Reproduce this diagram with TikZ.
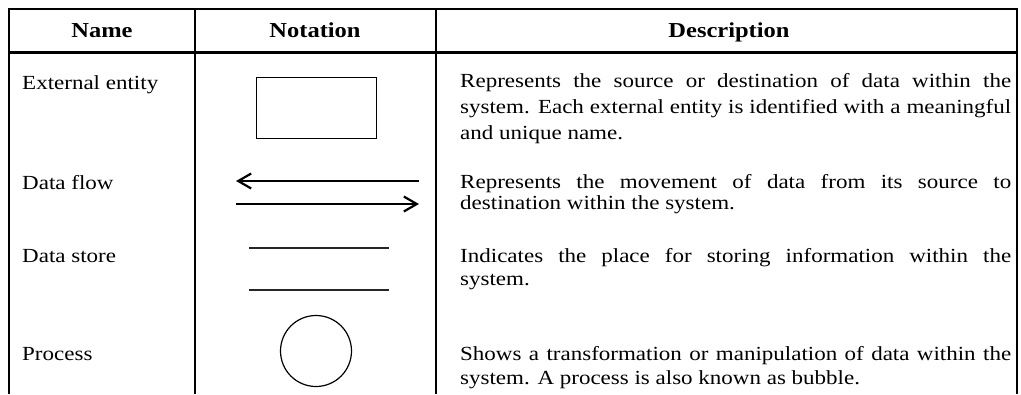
\documentclass[tikz,border=0pt]{standalone}
\usepackage{fontspec}
\setmainfont[FakeStretch=1.15]{Liberation Serif}
\usetikzlibrary{arrows.meta}
\begin{document}
\begin{tikzpicture}[x=1pt,y=-1pt,
  body/.style={anchor=base west,inner sep=0pt,font=\fontsize{20}{24}\selectfont},
  head/.style={anchor=base,inner sep=0pt,font=\fontsize{21.3}{25}\selectfont\bfseries},
  colrule/.style={line width=2pt},
  flow/.style={line width=2pt,-{Straight Barb[length=13pt,width=15pt,line width=2.2pt]}},
  storeline/.style={line width=1.6pt,draw=black!85},
]
\useasboundingbox (0,0) rectangle (1021,394);
% table frame
\draw[line width=2.5pt] (9,394) -- (9,9) -- (1017,9) -- (1017,394);
\draw[colrule] (195,9) -- (195,394);
\draw[colrule] (436,9) -- (436,394);
\draw[line width=3pt] (9,52) -- (1017,52);
% headers
\node[head] (hname) at (102,37) {Name};
\node[head] (hnot) at (315,37) {Notation};
\node[head] (hdesc) at (729,37) {Description};
% names
\node[body] (n1) at (22,89) {External entity};
\node[body] (n2) at (22,189) {Data flow};
\node[body] (n3) at (22,262) {Data store};
\node[body] (n4) at (22,360) {Process};
% notation
\node[draw,line width=1pt,minimum width=120pt,minimum height=61pt,inner sep=0pt] (ent) at (316,107.5) {};
\coordinate (f1s) at (419,181);
\coordinate (f1e) at (236,181);
\coordinate (f2s) at (236,204);
\coordinate (f2e) at (419,204);
\draw[flow] (f1s) -- (f1e);
\draw[flow] (f2s) -- (f2e);
\coordinate (s1a) at (249,248);
\coordinate (s1b) at (389,248);
\coordinate (s2a) at (249,290);
\coordinate (s2b) at (389,290);
\draw[storeline] (s1a) -- (s1b);
\draw[storeline] (s2a) -- (s2b);
\node[draw,circle,line width=1.2pt,minimum size=71pt,inner sep=0pt] (proc) at (316,351) {};
% descriptions
\node[body] (d1a) at (460,87) {\makebox[551pt][s]{Represents the source or destination of data within the}};
\node[body] (d1b) at (460,113) {\makebox[551pt][s]{system. Each external entity is identified with a meaningful}};
\node[body] (d1c) at (460,139) {and unique name.};
\node[body] (d2a) at (460,188) {\makebox[551pt][s]{Represents the movement of data from its source to}};
\node[body] (d2b) at (460,209) {destination within the system.};
\node[body] (d3a) at (460,262) {\makebox[551pt][s]{Indicates the place for storing information within the}};
\node[body] (d3b) at (460,285) {system.};
\node[body] (d4a) at (460,360) {\makebox[551pt][s]{Shows a transformation or manipulation of data within the}};
\node[body] (d4b) at (460,384) {system. A process is also known as bubble.};
\end{tikzpicture}
\end{document}
